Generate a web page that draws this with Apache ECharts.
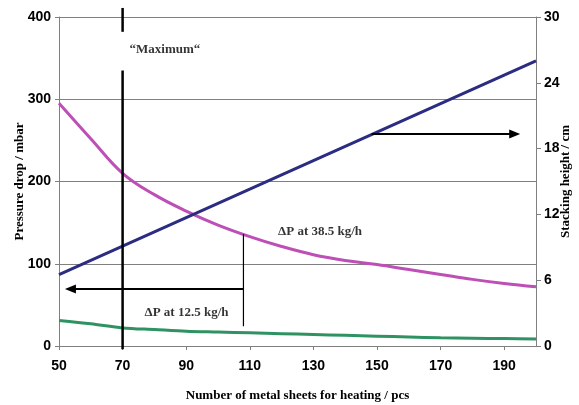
<!DOCTYPE html>
<html>
<head>
<meta charset="utf-8">
<script src="https://cdn.jsdelivr.net/npm/echarts@6/dist/echarts.min.js"></script>
<style>
  html, body { margin: 0; padding: 0; background: #fff; }
  #chart { width: 579px; height: 405px; }
</style>
</head>
<body>
<div id="chart"></div>
<script>
// number of metal sheets (x)
const sheets = [50, 60, 70, 80, 90, 100, 110, 120, 130, 140, 150, 160, 170, 180, 190, 200];
// pressure drop / mbar at 38.5 kg/h
const dp385 = [295, 252, 210, 184, 164, 147, 133, 121, 111, 104, 99, 93, 87, 81, 76, 72];
// pressure drop / mbar at 12.5 kg/h
const dp125 = [31, 27, 22, 20, 18, 17, 16, 15, 14, 13, 12, 11, 10, 9.5, 9, 8.5];
// stacking height / cm (right axis)
const stackHeight = [6.5, 7.8, 9.1, 10.4, 11.7, 13.0, 14.3, 15.6, 16.9, 18.2, 19.5, 20.8, 22.1, 23.4, 24.7, 26.0];

// annotation anchors in data units (x = sheets, y = mbar)
const maxLineTop = [[70, 411], [70, 382]];
const maxLineBottom = [[70, 335], [70, -4]];
const dropLine = [[108, 136], [108, 24]];
const leftArrow = [[108, 69.3], [53.6, 69.3]];
const rightArrow = [[148.3, 257.8], [193.3, 257.8]];
const notes = [
  { value: [83.3, 360], name: '“Maximum“' },
  { value: [90.1, 40.5], name: 'ΔP at 12.5 kg/h' },
  { value: [132.1, 139], name: 'ΔP at 38.5 kg/h' },
];

const pair = (xs, ys) => xs.map((x, i) => [x, ys[i]]);

const tickFont = { color: '#000', fontFamily: 'Liberation Sans', fontWeight: 'bold', fontSize: 14 };
const titleFont = { color: '#000', fontFamily: 'Liberation Serif', fontWeight: 'bold', fontSize: 13 };

// line with a triangle head on its end point
const arrow = (pts, rot) => ({
  type: 'line',
  yAxisIndex: 0,
  clip: false,
  silent: true,
  symbol: 'none',
  lineStyle: { color: '#000', width: 2 },
  data: [
    { value: pts[0], symbol: 'none' },
    { value: pts[1], symbol: 'triangle', symbolSize: [9, 11], symbolRotate: rot, itemStyle: { color: '#000' } },
  ],
  z: 5,
});

const segment = (pts, w) => ({
  type: 'line',
  yAxisIndex: 0,
  clip: false,
  silent: true,
  symbol: 'none',
  lineStyle: { color: '#000', width: w },
  data: pts,
  z: 5,
});

const myChart = echarts.init(document.getElementById('chart'));
myChart.setOption({
  animation: false,
  grid: { left: 59, right: 43, top: 17, bottom: 59, containLabel: false, outerBoundsMode: 'none' },
  xAxis: {
    type: 'value',
    min: 50,
    max: 200,
    interval: 20,
    name: 'Number of metal sheets for heating / pcs',
    nameLocation: 'middle',
    nameGap: 43,
    nameMoveOverlap: false,
    nameTextStyle: titleFont,
    axisLine: { onZero: false, lineStyle: { color: '#808080' } },
    axisTick: { show: true, length: 4, lineStyle: { color: '#808080' } },
    axisLabel: Object.assign({ margin: 13, showMaxLabel: false }, tickFont),
    splitLine: { show: false },
  },
  yAxis: [
    {
      type: 'value',
      min: 0,
      max: 400,
      interval: 100,
      name: 'Pressure drop / mbar',
      nameLocation: 'middle',
      nameGap: 33,
      nameMoveOverlap: false,
      nameTextStyle: titleFont,
      axisLine: { show: true, lineStyle: { color: '#808080' } },
      axisTick: { show: true, length: 4, lineStyle: { color: '#808080' } },
      axisLabel: Object.assign({ margin: 8 }, tickFont),
      splitLine: { show: true, lineStyle: { color: '#808080', width: 1 } },
    },
    {
      type: 'value',
      min: 0,
      max: 30,
      interval: 6,
      position: 'right',
      name: 'Stacking height / cm',
      nameLocation: 'middle',
      nameGap: 23,
      nameMoveOverlap: false,
      nameTextStyle: titleFont,
      axisLine: { show: true, lineStyle: { color: '#808080' } },
      axisTick: { show: true, length: 5, lineStyle: { color: '#808080' } },
      axisLabel: Object.assign({ margin: 8 }, tickFont),
      splitLine: { show: false },
    },
  ],
  series: [
    {
      name: 'ΔP at 38.5 kg/h',
      type: 'line',
      yAxisIndex: 0,
      smooth: 0.4,
      showSymbol: false,
      lineStyle: { color: '#bd4fb6', width: 3 },
      data: pair(sheets, dp385),
      z: 3,
    },
    {
      name: 'ΔP at 12.5 kg/h',
      type: 'line',
      yAxisIndex: 0,
      smooth: 0.3,
      showSymbol: false,
      lineStyle: { color: '#2f9262', width: 3 },
      data: pair(sheets, dp125),
      z: 3,
    },
    {
      name: 'Stacking height',
      type: 'line',
      yAxisIndex: 1,
      showSymbol: false,
      lineStyle: { color: '#2b2c82', width: 3 },
      data: pair(sheets, stackHeight),
      z: 3,
    },
    segment(maxLineTop, 2.5),
    segment(maxLineBottom, 2.5),
    segment(dropLine, 1.2),
    arrow(leftArrow, 90),
    arrow(rightArrow, -90),
    {
      type: 'scatter',
      yAxisIndex: 0,
      clip: false,
      silent: true,
      symbolSize: 0,
      data: notes,
      label: {
        show: true,
        position: 'inside',
        formatter: '{b}',
        color: '#000',
        fontFamily: 'Liberation Serif',
        fontWeight: 'bold',
        fontSize: 13,
      },
      z: 6,
    },
  ],
});
</script>
</body>
</html>
